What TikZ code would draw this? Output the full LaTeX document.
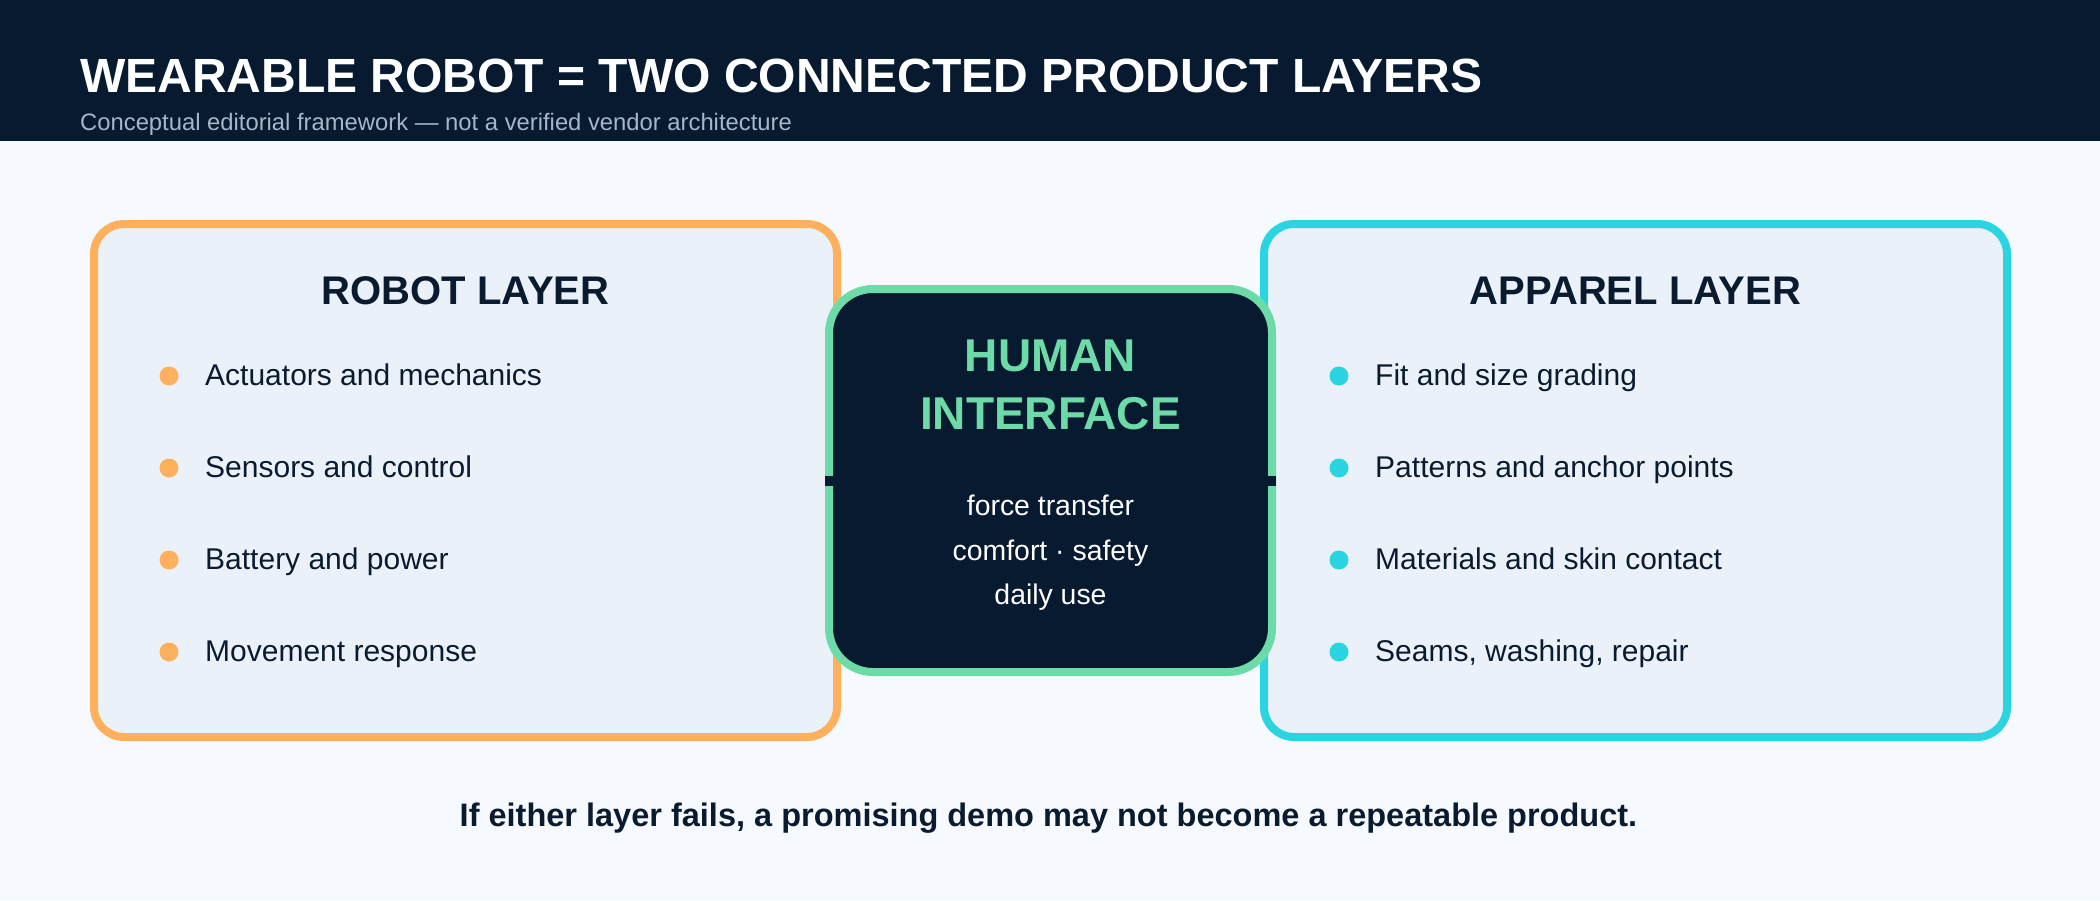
\documentclass[tikz,border=0pt]{standalone}
\usepackage{fontspec}
\setmainfont{Liberation Sans}
\definecolor{navy}{HTML}{071A2F}
\definecolor{pagebg}{HTML}{F6FAFE}
\definecolor{boxfill}{HTML}{EAF1F8}
\definecolor{orng}{HTML}{FFB05C}
\definecolor{cyn}{HTML}{2AD4E0}
\definecolor{grn}{HTML}{6DDBA8}
\definecolor{ink}{HTML}{0B1B2F}
\definecolor{subgrey}{HTML}{A7B6C8}
\newcommand\setfs[1]{\fontsize{#1}{#1}\selectfont}
\tikzset{
  layerbox/.style={draw, line width=8pt, fill=boxfill, rounded corners=30pt,
    minimum width=743pt, minimum height=513pt, inner sep=0pt},
  hubbox/.style={draw=grn, line width=8pt, fill=navy, rounded corners=44pt,
    minimum width=443pt, minimum height=383pt, inner sep=0pt},
  conn/.style={draw=navy, line width=10pt},
  bulletdot/.style={circle, minimum size=19pt, inner sep=0pt},
  itemtxt/.style={anchor=base west, inner sep=0pt, text=ink, font=\setfs{30}},
  layertitle/.style={anchor=base, inner sep=0pt, text=ink, font=\bfseries\setfs{40}},
  hubtitle/.style={anchor=base, inner sep=0pt, text=grn, font=\bfseries\setfs{46}},
  hubtxt/.style={anchor=base, inner sep=0pt, text=white, font=\setfs{28.4}},
}
\begin{document}
\begin{tikzpicture}[x=1pt,y=-1pt]
\useasboundingbox (0,0) rectangle (2100,900);
\fill[pagebg] (0,0) rectangle (2100,900);
\fill[navy] (0,0) rectangle (2100,141);
\node[anchor=base west, inner sep=0pt, text=white, font=\bfseries\setfs{48}] (title) at (80,92) {WEARABLE ROBOT = TWO CONNECTED PRODUCT LAYERS};
\node[anchor=base west, inner sep=0pt, text=subgrey, font=\setfs{23.8}] (subtitle) at (80,130) {Conceptual editorial framework — not a verified vendor architecture};

\node[layerbox, draw=orng] (robot) at (465.5,480.5) {};
\node[layerbox, draw=cyn] (apparel) at (1635.5,480.5) {};
\node[hubbox] (human) at (1050.5,480.5) {};
\draw[conn] (robot.east) -- (human.west);
\draw[conn] (human.east) -- (apparel.west);

\node[layertitle] (rtitle) at (465.5,304) {ROBOT LAYER};
\node[layertitle] (atitle) at (1635.5,304) {APPAREL LAYER};

\node[bulletdot, fill=orng] (rb1) at (169,376) {};
\node[bulletdot, fill=orng] (rb2) at (169,468) {};
\node[bulletdot, fill=orng] (rb3) at (169,560) {};
\node[bulletdot, fill=orng] (rb4) at (169,652) {};
\node[itemtxt] (rt1) at (205,385) {Actuators and mechanics};
\node[itemtxt] (rt2) at (205,477) {Sensors and control};
\node[itemtxt] (rt3) at (205,569) {Battery and power};
\node[itemtxt] (rt4) at (205,661) {Movement response};

\node[bulletdot, fill=cyn] (ab1) at (1339,376) {};
\node[bulletdot, fill=cyn] (ab2) at (1339,468) {};
\node[bulletdot, fill=cyn] (ab3) at (1339,560) {};
\node[bulletdot, fill=cyn] (ab4) at (1339,652) {};
\node[itemtxt] (at1) at (1375,385) {Fit and size grading};
\node[itemtxt] (at2) at (1375,477) {Patterns and anchor points};
\node[itemtxt] (at3) at (1375,569) {Materials and skin contact};
\node[itemtxt] (at4) at (1375,661) {Seams, washing, repair};

\node[hubtitle] (h1) at (1050.5,371) {HUMAN};
\node[hubtitle] (h2) at (1050.5,429) {INTERFACE};
\node[hubtxt] (h3) at (1050.5,515) {force transfer};
\node[hubtxt] (h4) at (1050.5,560) {comfort · safety};
\node[hubtxt] (h5) at (1050.5,604) {daily use};

\node[anchor=base, inner sep=0pt, text=ink, font=\bfseries\setfs{32.5}] (footer) at (1048.5,826) {If either layer fails, a promising demo may not become a repeatable product.};
\end{tikzpicture}
\end{document}
